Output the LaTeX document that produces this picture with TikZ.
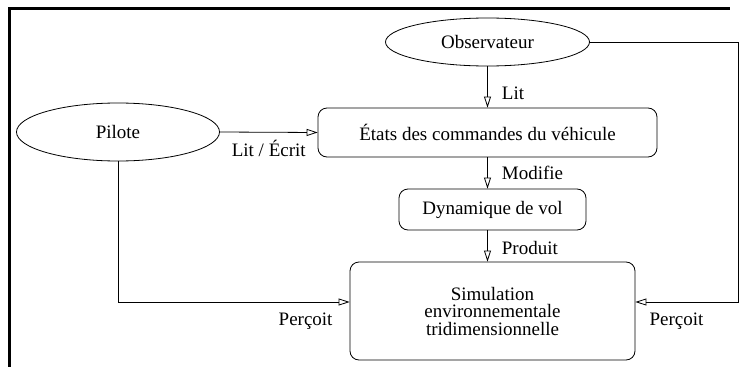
\documentclass[tikz,border=0pt]{standalone}
\usepackage{fontspec}
\setmainfont{Liberation Serif}
\usetikzlibrary{shapes.geometric,arrows.meta}

\begin{document}
\begin{tikzpicture}[x=1pt,y=1pt,yscale=-1,
  every node/.style={font=\fontsize{19}{17.5}\selectfont},
  acteur/.style={draw, ellipse, inner sep=0pt, line width=0.8pt},
  bloc/.style={draw, rounded corners=9pt, inner sep=0pt, line width=0.8pt, align=center},
  fleche/.style={line width=0.8pt, -{Triangle[open, length=11pt, width=7pt]}},
  lien/.style={inner sep=2pt}]
\useasboundingbox (0,0) rectangle (740,367);

%Cadre
\draw [line width=3pt] (9,367) -- (9,8) -- (730,8) ;

%Acteurs
\node [acteur, minimum width=204, minimum height=48] (obs) at (487.5,42) {Observateur};
\node [acteur, minimum width=203, minimum height=58] (pil) at (118,132) {Pilote};

%Blocs
\node [bloc, minimum width=339, minimum height=49] (cmd) at (487.5,132.5) {États des commandes du véhicule};
\node [bloc, minimum width=187, minimum height=41] (dyn) at (492.5,209.5) {Dynamique de vol};
\node [bloc, minimum width=285, minimum height=98] (sim) at (492.5,311) {Simulation\\environnementale\\tridimensionnelle};

\coordinate (coin) at (738,302);

%Liens
\draw [fleche] (obs.south) -- node [lien, pos=0.65, anchor=west, xshift=12] {Lit} (cmd.north) ;
\draw [fleche] (pil.east) -- node [lien, below, yshift=-6] {Lit / Écrit} (cmd.west) ;
\draw [fleche] (cmd.south) -- node [lien, anchor=west, xshift=12] {Modifie} (cmd.south |- dyn.north) ;
\draw [fleche] (cmd.south |- dyn.south) -- node [lien, pos=0.55, anchor=west, xshift=12] {Produit} (cmd.south |- sim.north) ;
\draw [fleche] (pil.south) |- node [lien, pos=0.905, below, yshift=-9] {Perçoit} (sim.west |- coin) ;
\draw [fleche] (obs.east) -| (coin) -- node [lien, pos=0.6, below, yshift=-9] {Perçoit} (sim.east |- coin) ;

\end{tikzpicture}
\end{document}
